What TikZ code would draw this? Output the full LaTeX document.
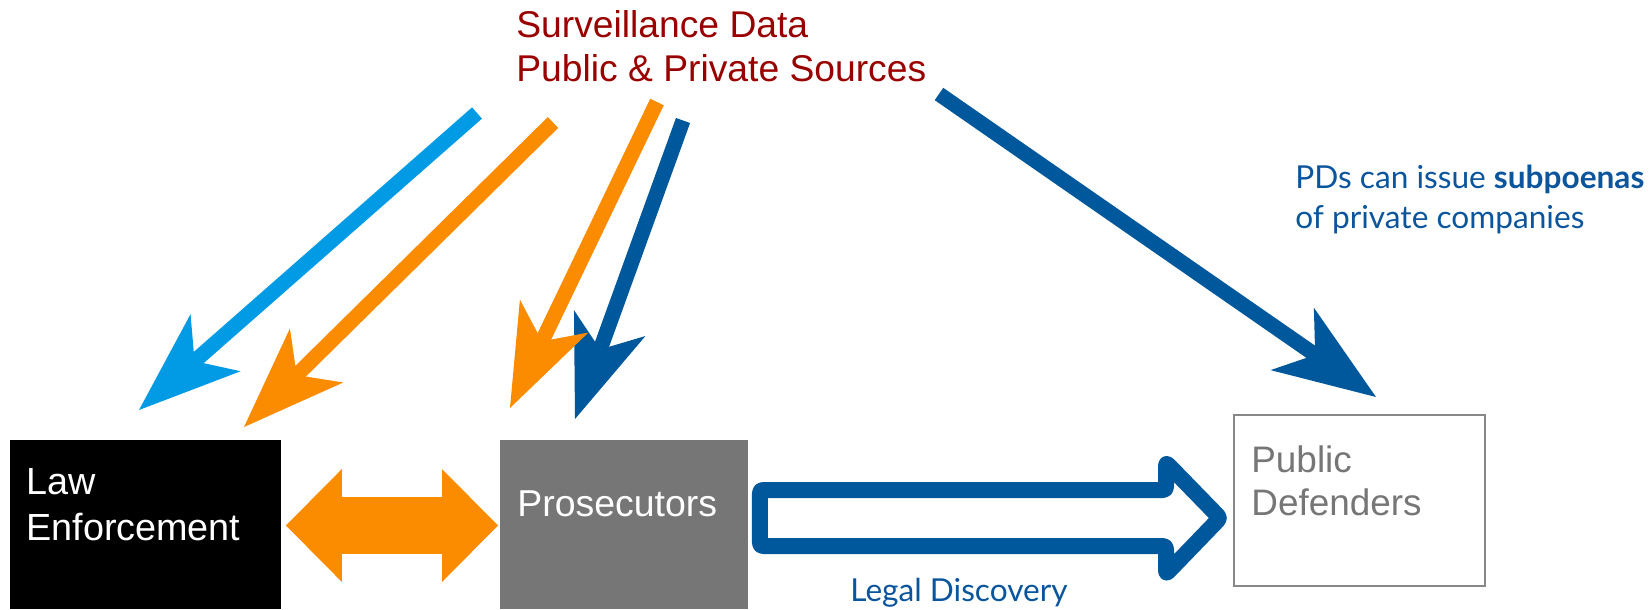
\documentclass[tikz,border=0pt]{standalone}
\usepackage{fontspec}
\setmainfont{Liberation Sans}
\newfontfamily\latofont{Lato}
\usetikzlibrary{arrows.meta}
\definecolor{dred}{RGB}{153,0,0}
\definecolor{dblue}{RGB}{0,88,156}
\definecolor{tblue}{RGB}{11,85,156}
\definecolor{lblue}{RGB}{0,155,228}
\definecolor{orng}{RGB}{251,140,0}
\definecolor{pgray}{RGB}{118,118,118}
\definecolor{bgray}{RGB}{136,136,136}
\begin{document}
\begin{tikzpicture}[x=0.02cm,y=-0.02cm,
  boxbase/.style={anchor=north west,inner sep=0pt,outer sep=0pt},
  bigtext/.style={anchor=north west,inner sep=0pt,align=left,font=\fontsize{21pt}{24.6pt}\selectfont},
  feed/.style={line width=0.3cm,-{Stealth[length=2.04cm,width=1.52cm,inset=0.56cm,line width=0pt]}},
  bluetext/.style={text=tblue,inner sep=0pt,font=\latofont\fontsize{18pt}{22.7pt}\selectfont}]
\useasboundingbox (0,0) rectangle (1650,609);
% source text
\node[anchor=north west,inner sep=0pt,align=left,text=dred,font=\fontsize{21.2pt}{25.1pt}\selectfont]
  (src) at (516,10.3) {Surveillance Data\\Public \& Private Sources};
% boxes
\node[boxbase,fill=black,minimum width=5.42cm,minimum height=3.38cm] (law) at (10,440) {};
\node[bigtext,text=white,font=\fontsize{21.5pt}{26pt}\selectfont] (lawtxt) at ([shift={(16,28.5)}]law.north west) {Law\\Enforcement};
\node[boxbase,fill=pgray,minimum width=4.96cm,minimum height=3.38cm] (pros) at (500,440) {};
\node[bigtext,text=white,font=\fontsize{21.3pt}{24.6pt}\selectfont] (prostxt) at ([shift={(17,50.2)}]pros.north west) {Prosecutors};
\node[boxbase,draw=bgray,line width=0.04cm,minimum width=5.02cm,minimum height=3.42cm] (pd) at (1234,415) {};
\node[bigtext,text=pgray] (pdtxt) at ([shift={(17,30.5)}]pd.north west) {Public\\Defenders};
% blue labels
\node[bluetext,anchor=north west,align=left] (subp) at (1295,164.5) {PDs can issue \textbf{subpoenas}\\of private companies};
\node[bluetext,anchor=base] (disc) at (959,601) {Legal Discovery};
% arrow end coordinates
\coordinate (s1) at (477,113);   \coordinate (t1) at (139,410);
\coordinate (s2) at (553,122.5); \coordinate (t2) at (244,427);
\coordinate (s3) at (657,102);   \coordinate (t3) at (510,408);
\coordinate (s4) at (683,120.5); \coordinate (t4) at (575,419);
\coordinate (s5) at (939,94);    \coordinate (t5) at (1376,397);
\draw[feed,lblue] (s1) -- (t1);
\draw[feed,orng] (s2) -- (t2);
\draw[feed,dblue] (s4) -- (t4);
\draw[feed,orng] (s3) -- (t3);
\draw[feed,dblue] (s5) -- (t5);
% double arrow between law and prosecutors
\draw[orng,line width=1.14cm,{Triangle[length=1.12cm,width=2.26cm,line width=0pt]}-{Triangle[length=1.12cm,width=2.26cm,line width=0pt]}]
  ([xshift=0.1cm]law.east |- 0,525.5) coordinate (da) -- ([xshift=-0.04cm]pros.west |- 0,525.5) coordinate (db);
% hollow arrow legal discovery
\draw[dblue,line width=0.32cm,line join=round,rounded corners=0.06cm]
  ([xshift=0.24cm]pros.east |- 0,490) -- (1166,490) -- (1166,462.5) -- (1220,518) -- (1166,574) -- (1166,546) -- ([xshift=0.24cm]pros.east |- 0,546) -- cycle;
\end{tikzpicture}
\end{document}
